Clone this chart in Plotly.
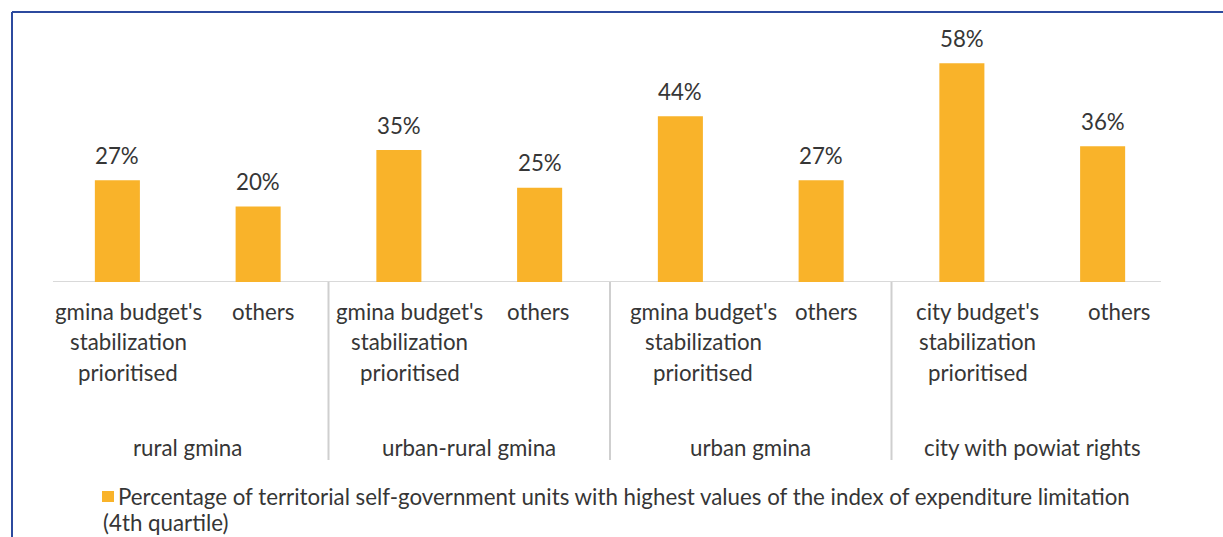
import plotly.graph_objects as go

# ---- data -------------------------------------------------------------
groups = ["rural gmina", "urban-rural gmina", "urban gmina", "city with powiat rights"]
sub_labels = [
    "gmina budget's\nstabilization\nprioritised", "others",
    "gmina budget's\nstabilization\nprioritised", "others",
    "gmina budget's\nstabilization\nprioritised", "others",
    "city budget's\nstabilization\nprioritised", "others",
]
values = [27, 20, 35, 25, 44, 27, 58, 36]
series_name = ("Percentage of territorial self-government units with highest values "
               "of the index of expenditure limitation")
series_name_2 = "(4th quartile)"

# ---- styling ----------------------------------------------------------
W, H = 1223, 537
M_L, M_R, M_T, M_B = 47, 50, 20, 255
FONT = "Lato"
TXT = "#363636"
BAR = "#F9B32A"
FS = 22.3

plot_w = W - M_L - M_R
plot_h = H - M_T - M_B
y_max = 69.5


def px_x(p):
    """pixel column -> paper x"""
    return (p - M_L) / plot_w


def px_y(p):
    """pixel row -> paper y"""
    return (H - M_B - p) / plot_h


x_pos = list(range(len(values)))

fig = go.Figure()
fig.add_trace(go.Bar(
    x=x_pos, y=values, width=0.32,
    marker=dict(color=BAR, line=dict(width=0)),
    name=series_name, showlegend=False, hoverinfo="skip",
))

annotations = []
shapes = []

# value labels above bars
for xi, v in zip(x_pos, values):
    annotations.append(dict(
        x=xi, y=v, xref="x", yref="y", text=f"{v}%", showarrow=False,
        yanchor="middle", yshift=25, font=dict(family=FONT, size=FS, color=TXT),
    ))

# category labels (one annotation per text line)
label_xshift = [11, 5, 11, -2, 23, 5, 16, 16]
for xi, lab, dx in zip(x_pos, sub_labels, label_xshift):
    for k, line in enumerate(lab.split("\n")):
        annotations.append(dict(
            x=xi, y=px_y(311 + 30.5 * k), xref="x", yref="paper", text=line,
            showarrow=False, xshift=dx, yanchor="middle", xanchor="center",
            font=dict(family=FONT, size=FS, color=TXT),
        ))

# group labels
for g, name in enumerate(groups):
    annotations.append(dict(
        x=2 * g + 0.5, y=px_y(447), xref="x", yref="paper", text=name,
        showarrow=False, yanchor="middle", xanchor="center",
        font=dict(family=FONT, size=FS, color=TXT),
    ))

# legend
shapes.append(dict(type="rect", xref="paper", yref="paper",
                   x0=px_x(102), x1=px_x(114), y0=px_y(502), y1=px_y(491),
                   fillcolor=BAR, line=dict(width=0)))
annotations.append(dict(
    x=px_x(116), y=px_y(497), xref="paper", yref="paper", text=series_name,
    showarrow=False, xanchor="left", yanchor="middle",
    font=dict(family=FONT, size=FS, color=TXT),
))
annotations.append(dict(
    x=px_x(101), y=px_y(522), xref="paper", yref="paper", text=series_name_2,
    showarrow=False, xanchor="left", yanchor="middle",
    font=dict(family=FONT, size=FS, color=TXT),
))

# baseline of the category axis
shapes.append(dict(type="line", xref="x", yref="y", x0=-0.4575, x1=7.414, y0=0, y1=0,
                   line=dict(color="#D9D9D9", width=2), layer="below"))

# group dividers
for xb in [1.5, 3.5, 5.5]:
    shapes.append(dict(type="line", xref="x", yref="paper", x0=xb, x1=xb,
                       y0=0, y1=px_y(460), line=dict(color="#CFCFCF", width=2)))

# frame around the chart
frame = dict(color="#2C4A9E", width=2)
shapes.append(dict(type="line", xref="paper", yref="paper",
                   x0=px_x(12), x1=px_x(12), y0=px_y(12), y1=px_y(600), line=frame))
shapes.append(dict(type="line", xref="paper", yref="paper",
                   x0=px_x(12), x1=px_x(1300), y0=px_y(12), y1=px_y(12), line=frame))

fig.update_layout(
    width=W, height=H,
    margin=dict(l=M_L, r=M_R, t=M_T, b=M_B, pad=0),
    paper_bgcolor="white", plot_bgcolor="white",
    xaxis=dict(range=[-0.5, 7.5], showticklabels=False, showgrid=False,
               zeroline=False, showline=False, ticks=""),
    yaxis=dict(range=[0, y_max], showticklabels=False, showgrid=False,
               zeroline=False, showline=False, ticks=""),
    annotations=annotations, shapes=shapes,
    showlegend=False,
)

fig.write_html("out.html")
